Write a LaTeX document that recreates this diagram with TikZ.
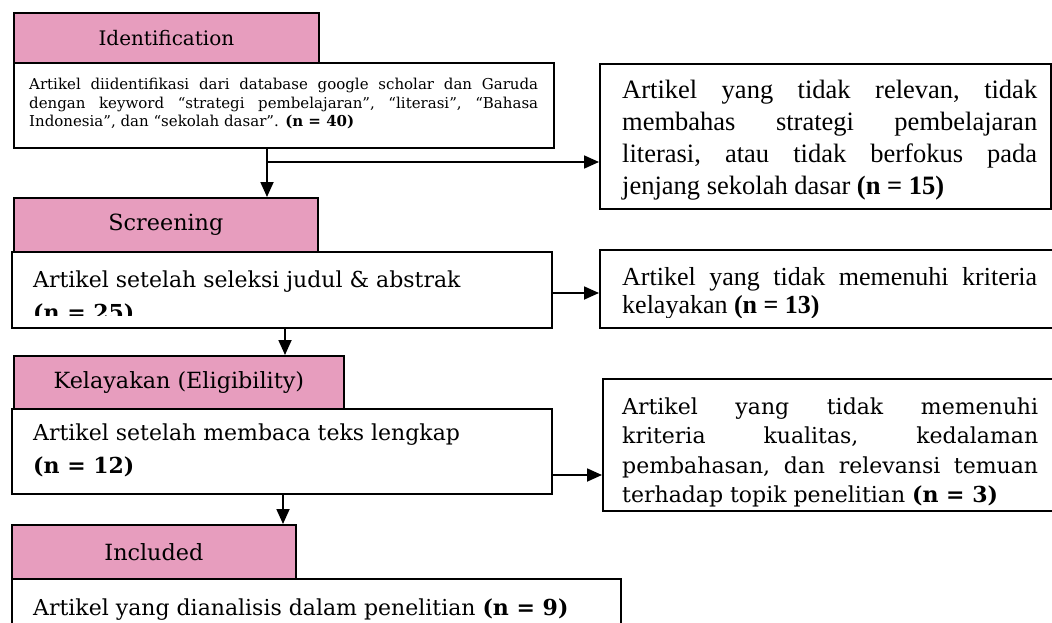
\documentclass[tikz,border=0pt]{standalone}
\usepackage{fontspec}
\setmainfont{DejaVu Serif}
\newfontfamily\tnr{Liberation Serif}
\usetikzlibrary{arrows.meta}
\definecolor{hdrpink}{RGB}{231,157,190}
\newcommand\jline[2]{\hbox to #1{\frenchspacing\spaceskip=0.25em plus 1fil\relax #2}}
\tikzset{
  hdr/.style={draw=black, fill=hdrpink, line width=1.8pt, anchor=north west, inner sep=0pt, font=\fontsize{22.3}{26}\selectfont},
  boxst/.style={draw=black, fill=white, line width=1.8pt, anchor=north west, inner sep=0pt},
  txt/.style={anchor=base west, inner sep=0pt},
  arr/.style={line width=1.8pt, -{Triangle[length=15pt,width=13pt]}},
}
\begin{document}
\begin{tikzpicture}[x=1pt,y=-1pt]
\clip (0,0) rectangle (1052,623);
% headers
\node[hdr, minimum width=305pt, minimum height=50pt, font=\fontsize{20}{24}\selectfont] (hid) at (13,12) {Identification};
\node[hdr, minimum width=304pt, minimum height=54pt] (hsc) at (13,197) {Screening};
\node[hdr, minimum width=330pt, minimum height=53pt] (hk) at (13,355) {Kelayakan (Eligibility)};
\node[hdr, minimum width=284pt, minimum height=54pt] (hin) at (11,524) {Included};
% boxes
\node[boxst, minimum width=540pt, minimum height=85pt] (b1) at (13,62) {};
\node[boxst, minimum width=451pt, minimum height=145pt] (r1) at (599,63) {};
\node[boxst, minimum width=540pt, minimum height=76pt] (b2) at (11,251) {};
\node[boxst, minimum width=470pt, minimum height=78pt] (r2) at (599,249) {};
\node[boxst, minimum width=540pt, minimum height=85pt] (b3) at (11,408) {};
\node[boxst, minimum width=470pt, minimum height=132pt] (r3) at (602,378) {};
\node[boxst, minimum width=609pt, minimum height=70pt] (b4) at (11,578) {};
% texts
\node[txt, font=\fontsize{15}{18.5}\selectfont] (t1) at (29,90) {\vtop{%
  \jline{509pt}{Artikel diidentifikasi dari database google scholar dan Garuda}%
  \jline{509pt}{dengan keyword “strategi pembelajaran”, “literasi”, “Bahasa}%
  \hbox{Indonesia”, dan “sekolah dasar”. \textbf{(n = 40)}}}};
\node[txt, font=\tnr\fontsize{26.5}{32}\selectfont] (t2) at (622,99) {\vtop{%
  \jline{415pt}{Artikel yang tidak relevan, tidak}%
  \jline{415pt}{membahas strategi pembelajaran}%
  \jline{415pt}{literasi, atau tidak berfokus pada}%
  \hbox{jenjang sekolah dasar \textbf{(n = 15)}}}};
\begin{scope}
  \clip (0,0) rectangle (1052,315);
  \node[txt, font=\fontsize{22}{33}\selectfont] (t3) at (33,287) {\vtop{%
    \hbox{Artikel setelah seleksi judul \& abstrak}%
    \hbox{\textbf{(n = 25)}}}};
\end{scope}
\begin{scope}
  \clip (0,0) rectangle (1052,317);
  \node[txt, font=\tnr\fontsize{26}{28}\selectfont] (t4) at (622,285) {\vtop{%
    \jline{415pt}{Artikel yang tidak memenuhi kriteria}%
    \hbox{kelayakan \textbf{(n = 13)}}}};
\end{scope}
\node[txt, font=\fontsize{22}{33}\selectfont] (t5) at (33,440) {\vtop{%
  \hbox{Artikel setelah membaca teks lengkap}%
  \hbox{\textbf{(n = 12)}}}};
\node[txt, font=\fontsize{22}{29.5}\selectfont] (t6) at (622,414) {\vtop{%
  \jline{416pt}{Artikel yang tidak memenuhi}%
  \jline{416pt}{kriteria kualitas, kedalaman}%
  \jline{416pt}{pembahasan, dan relevansi temuan}%
  \hbox{terhadap topik penelitian \textbf{(n = 3)}}}};
\node[txt, font=\fontsize{22}{29}\selectfont] (t7) at (33,615) {Artikel yang dianalisis dalam penelitian \textbf{(n = 9)}};
% connectors
\coordinate (p1) at (267,0);
\coordinate (br1) at (267,162);
\coordinate (q2) at (0,293);
\coordinate (p2) at (285,0);
\coordinate (q3) at (0,475);
\coordinate (p3) at (283,0);
\draw[arr] (p1 |- b1.south) -- (p1 |- hsc.north);
\draw[arr] (br1) -- (br1 -| r1.west);
\draw[arr] (q2 -| b2.east) -- (q2 -| r2.west);
\draw[arr] (p2 |- b2.south) -- (p2 |- hk.north);
\draw[arr] (q3 -| b3.east) -- (q3 -| r3.west);
\draw[arr] (p3 |- b3.south) -- (p3 |- hin.north);
\end{tikzpicture}
\end{document}
